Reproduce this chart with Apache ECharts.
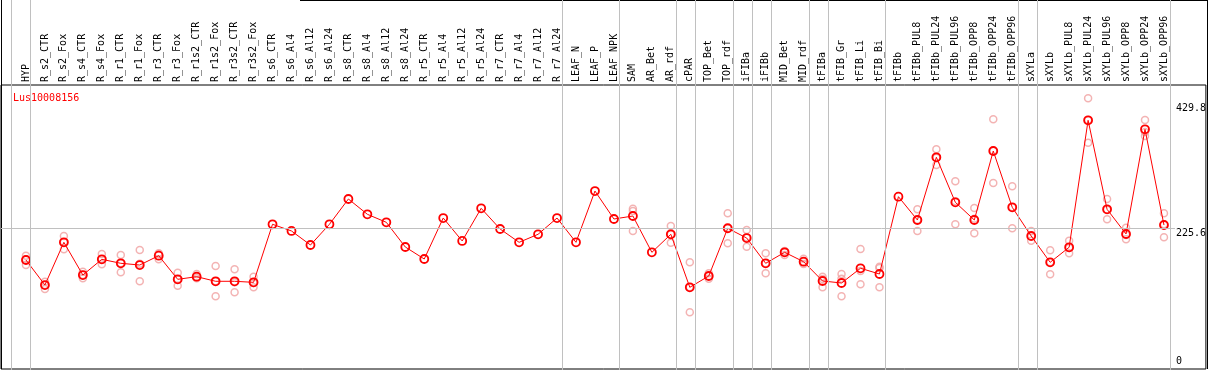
<!DOCTYPE html>
<html>
<head>
<meta charset="utf-8">
<script src="https://cdn.jsdelivr.net/npm/echarts@6/dist/echarts.min.js"></script>
<style>
html,body{margin:0;padding:0;background:#fff;}
#chart{width:1209px;height:370px;}
</style>
</head>
<body>
<div id="chart"></div>
<script>
const geneName = 'Lus10008156';
const categories = ['HYP','R_s2_CTR','R_s2_Fox','R_s4_CTR','R_s4_Fox','R_r1_CTR','R_r1_Fox','R_r3_CTR','R_r3_Fox','R_r1s2_CTR','R_r1s2_Fox','R_r3s2_CTR','R_r3s2_Fox','R_s6_CTR','R_s6_Al4','R_s6_Al12','R_s6_Al24','R_s8_CTR','R_s8_Al4','R_s8_Al12','R_s8_Al24','R_r5_CTR','R_r5_Al4','R_r5_Al12','R_r5_Al24','R_r7_CTR','R_r7_Al4','R_r7_Al12','R_r7_Al24','LEAF_N','LEAF_P','LEAF_NPK','SAM','AR_Bet','AR_rdf','cPAR','TOP_Bet','TOP_rdf','iFIBa','iFIBb','MID_Bet','MID_rdf','tFIBa','tFIB_Gr','tFIB_Li','tFIB_Bi','tFIBb','tFIBb_PUL8','tFIBb_PUL24','tFIBb_PUL96','tFIBb_OPP8','tFIBb_OPP24','tFIBb_OPP96','sXYLa','sXYLb','sXYLb_PUL8','sXYLb_PUL24','sXYLb_PUL96','sXYLb_OPP8','sXYLb_OPP24','sXYLb_OPP96'];
const meanValues = [173.9,133.1,202.7,149.4,175.0,168.5,165.7,180.9,142.4,146.7,139.2,139.2,137.5,232.1,221.2,198.3,232.1,273.3,248.4,235.3,195.1,175.5,242.3,204.9,258.1,224.4,202.7,215.8,242.3,202.7,286.3,240.7,245.6,186.4,215.8,129.4,147.8,225.6,209.7,168.5,186.4,171.1,139.7,136.4,160.4,151.1,277.1,239.1,341.3,267.9,239.1,351.5,259.8,213.0,170.1,194.6,401.6,256.5,216.3,386.9,230.9];
const rep1 = [180.9,138.5,213.0,154.8,183.7,182.0,190.2,184.8,153.2,151.1,164.1,158.7,146.7,null,null,null,null,null,null,null,null,null,null,null,null,null,null,null,null,null,null,null,257.5,null,229.3,170.1,152.2,250.0,222.8,184.8,188.6,176.0,146.7,151.1,191.8,163.0,null,256.5,354.3,302.1,258.6,403.2,294.0,221.2,189.7,205.3,437.4,273.3,226.5,402.1,250.0];
const rep2 = [175.0,133.1,202.7,149.4,175.0,168.5,167.9,183.2,142.4,146.7,139.2,137.5,136.4,null,null,null,null,null,null,null,null,null,null,null,null,null,null,null,null,null,null,null,253.7,null,215.8,129.4,147.8,225.6,210.9,168.5,186.4,171.1,142.9,143.4,156.0,160.9,null,239.6,340.6,269.6,241.2,352.0,259.8,212.5,170.1,193.4,402.1,255.9,214.6,382.5,232.1];
const rep3 = [165.7,126.6,191.3,144.1,166.9,153.8,139.2,175.0,132.0,144.1,114.7,121.3,129.4,null,null,null,null,null,null,null,null,null,null,null,null,null,null,null,null,null,null,null,221.2,null,202.1,88.7,143.4,201.1,195.6,152.2,182.0,167.4,129.4,114.7,134.3,129.4,null,221.2,328.7,232.1,217.4,299.4,225.6,205.3,150.6,184.8,365.1,240.2,207.6,376.0,210.9];
const groupEnds = [-1,0,28,31,34,35,37,38,39,41,42,45,52,53,60];
const yTickLabels = [225.6, 429.8];
const yZeroLabel = [0];

// layout
const XMIN = -25/19, XMAX = 1182/19;
const YMIN = -3.75, YMAX = 459.1;
const SEP_OFFSET = 4.5/19;
const GRID_LINE_END = 60.58;
const mono = 'DejaVu Sans Mono';

const meanData = meanValues.map((v,i)=>[i,v]);
const repData = [];
[rep1,rep2,rep3].forEach(arr=>arr.forEach((v,i)=>{ if(v!==null) repData.push([i,v]); }));

const chart = echarts.init(document.getElementById('chart'), null, {renderer:'canvas'});
chart.setOption({
  animation:false,
  backgroundColor:'#fff',
  title:{text:geneName,left:8,top:88,textStyle:{color:'#ff0000',fontSize:10,fontFamily:mono,fontWeight:'normal'}},
  grid:[
    {left:1,right:1,top:85,bottom:1,show:true,borderColor:'#000',borderWidth:1,backgroundColor:'transparent'},
    {left:1,right:1,top:0,bottom:0,show:false}
  ],
  xAxis:[
    {gridIndex:0,type:'value',min:XMIN,max:XMAX,position:'top',
     axisLine:{show:false},axisTick:{show:false},splitLine:{show:false},
     axisLabel:{show:true,customValues:categories.map((c,i)=>i),rotate:90,margin:3,
       formatter:(v)=>categories[Math.round(v)]||'',fontFamily:mono,fontSize:10,color:'#000',padding:[0,0,3,0]}},
    {gridIndex:1,type:'value',min:XMIN,max:XMAX,show:false}
  ],
  yAxis:[
    {gridIndex:0,type:'value',min:YMIN,max:YMAX,position:'right',
     axisLine:{show:false},axisTick:{show:false},splitLine:{show:false},
     axisLabel:{inside:true,customValues:yTickLabels,formatter:(v)=>String(v),align:'left',verticalAlign:'top',margin:30,
       fontFamily:mono,fontSize:10,color:'#000'}},
    {gridIndex:0,type:'value',min:YMIN,max:YMAX,position:'right',
     axisLine:{show:false},axisTick:{show:false},splitLine:{show:false},
     axisLabel:{inside:true,customValues:yZeroLabel,formatter:(v)=>String(v),align:'left',verticalAlign:'bottom',margin:30,
       fontFamily:mono,fontSize:10,color:'#000'}},
    {gridIndex:1,type:'value',min:0,max:1,show:false}
  ],
  graphic:[
    {type:'line',shape:{x1:1.5,y1:0,x2:1.5,y2:369},style:{stroke:'#000',lineWidth:1},silent:true},
    {type:'line',shape:{x1:1207.5,y1:0,x2:1207.5,y2:369},style:{stroke:'#000',lineWidth:1},silent:true},
    {type:'line',shape:{x1:300,y1:0.5,x2:1208,y2:0.5},style:{stroke:'#000',lineWidth:1},silent:true}
  ],
  series:[
    {type:'line',xAxisIndex:1,yAxisIndex:2,data:[],silent:true,
     markLine:{silent:true,symbol:['none','none'],label:{show:false},
       lineStyle:{color:'#c0c0c0',width:1,type:'solid'},
       data:groupEnds.map(g=>({xAxis:g+SEP_OFFSET}))}},
    {type:'line',xAxisIndex:0,yAxisIndex:0,data:[],silent:true,
     markLine:{silent:true,symbol:['none','none'],label:{show:false},
       lineStyle:{color:'#c0c0c0',width:1,type:'solid'},
       data:[[{coord:[XMIN,yTickLabels[0]]},{coord:[GRID_LINE_END,yTickLabels[0]]}]]}},
    {type:'scatter',xAxisIndex:0,yAxisIndex:0,data:repData,symbol:'circle',symbolSize:7,silent:true,
     itemStyle:{color:'rgba(255,255,255,0)',borderColor:'#f0a0a0',borderWidth:1.5}},
    {type:'line',xAxisIndex:0,yAxisIndex:0,data:meanData,symbol:'circle',symbolSize:8,showAllSymbol:true,silent:true,
     lineStyle:{color:'#ff0000',width:1},
     itemStyle:{color:'rgba(255,255,255,0)',borderColor:'#ff0000',borderWidth:1.8}}
  ]
});
</script>
</body>
</html>
